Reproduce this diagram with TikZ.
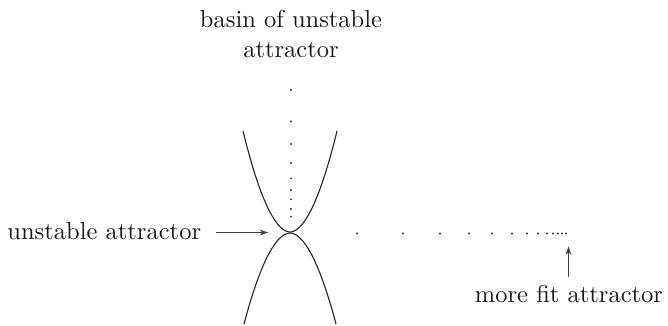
\documentclass[tikz,border=0pt]{standalone}
\usetikzlibrary{arrows.meta}
\begin{document}
\begin{tikzpicture}[x=0.408pt,y=-0.408pt,
  curve/.style={line width=0.45pt,black!85},
  arr/.style={line width=0.45pt,black!75,-{Stealth[length=3.4pt,width=2.4pt]}},
  lbl/.style={font=\normalsize,text=black!90},
  dot/.style={fill=black!80}]
\useasboundingbox (0,0) rectangle (668,325);
% labels
\node[lbl,align=center,anchor=north,inner sep=0pt] (basin) at (291,10) {basin of unstable\\attractor};
\node[lbl,anchor=base west,inner sep=0pt] (ua) at (7,239) {unstable attractor};
\node[lbl,anchor=base] (mf) at (569,302.7) {more fit attractor};
% crossing point
\coordinate (X) at (290,232.5);
\coordinate (Xl) at (268,232.5);
\coordinate (mftip) at (568.5,246.5);
% curves
\draw[curve] plot[domain=-47:47,samples=90] ({290+\x},{232-0.0672*pow(abs(\x)+0.01,1.9)});
\draw[curve] plot[domain=-46:46,samples=90] ({290+\x},{233+0.063*pow(abs(\x)+0.01,1.9)});
% arrows
\draw[arr] ([xshift=5.7pt]ua.east |- X) -- (Xl);
\draw[arr] (mf.north -| mftip) -- (mftip);
% vertical dots
\foreach \yy in {90,121.5,144,163,178.3,190,199.3,209,216.7}
  \fill[dot] (291,\yy) circle[radius=0.42pt];
% horizontal dots
\foreach \xx in {357,403,440,469,492,512,527,538,547,553,558,562,566}
  \fill[dot] (\xx,233.5) circle[radius=0.42pt];
\end{tikzpicture}
\end{document}
